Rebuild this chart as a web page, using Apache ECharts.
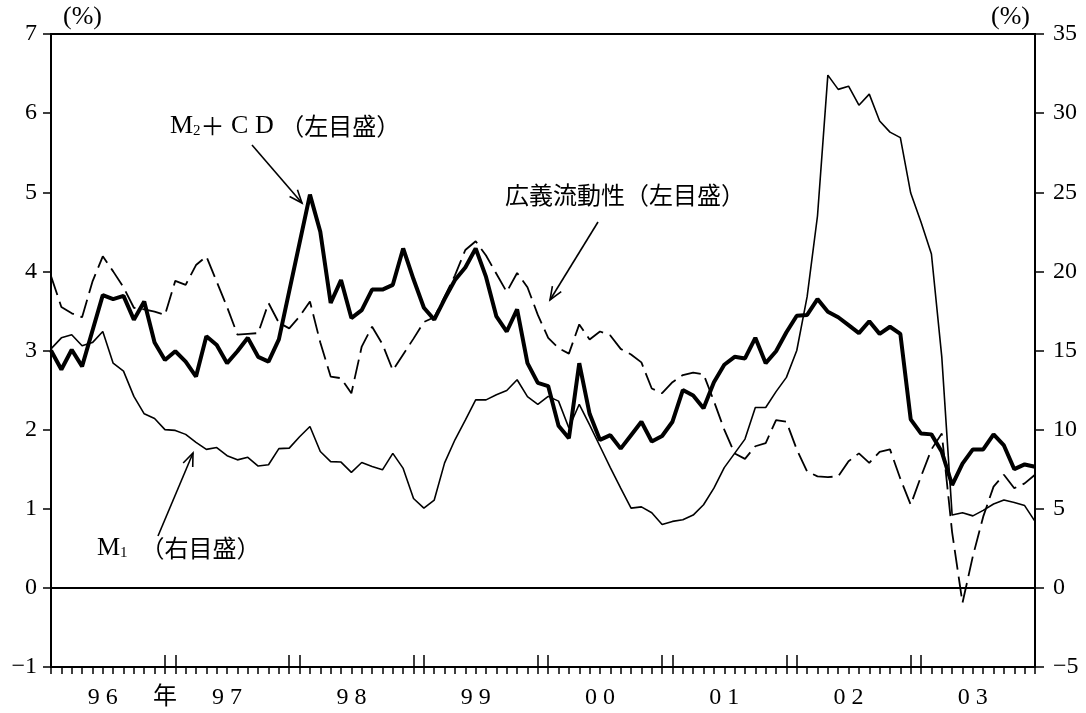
<!DOCTYPE html>
<html>
<head>
<meta charset="utf-8">
<script src="https://cdn.jsdelivr.net/npm/echarts@6/dist/echarts.min.js"></script>
<style>
  html, body { margin: 0; padding: 0; background: #fff; }
  #chart { width: 1086px; height: 713px; }
</style>
</head>
<body>
<div id="chart"></div>
<script>
// 前年比（%）、月次 1996年1月〜2003年12月
var years = ['96', '97', '98', '99', '00', '01', '02', '03'];
var months = [];
years.forEach(function (y) {
  for (var m = 1; m <= 12; m++) months.push(y + '/' + m);
});

// 目盛ラベル
var yearLabels = ['9 6', '9 7', '9 8', '9 9', '0 0', '0 1', '0 2', '0 3'];
var yearUnit = '年';
var leftTicks = { min: -1, max: 7, step: 1 };
var rightTicks = { min: -5, max: 35, step: 5 };

// M2+CD（左目盛）
var m2cd = [
  3.00, 2.76, 3.01, 2.80, 3.25, 3.70, 3.65, 3.69, 3.39, 3.62, 3.10, 2.88,
  2.99, 2.86, 2.67, 3.18, 3.07, 2.84, 2.99, 3.16, 2.92, 2.86, 3.14, 3.75,
  4.36, 4.97, 4.50, 3.60, 3.89, 3.41, 3.51, 3.77, 3.77, 3.83, 4.29, 3.90,
  3.54, 3.39, 3.65, 3.89, 4.05, 4.29, 3.93, 3.43, 3.24, 3.52, 2.84, 2.59,
  2.55, 2.05, 1.89, 2.84, 2.20, 1.87, 1.93, 1.76, 1.93, 2.10, 1.85, 1.92,
  2.10, 2.50, 2.43, 2.27, 2.60, 2.82, 2.92, 2.90, 3.16, 2.84, 2.99, 3.23,
  3.44, 3.45, 3.65, 3.49, 3.42, 3.32, 3.22, 3.37, 3.21, 3.30, 3.21, 2.13,
  1.95, 1.94, 1.72, 1.30, 1.57, 1.75, 1.75, 1.94, 1.80, 1.50, 1.56, 1.53
];

// 広義流動性（左目盛）
var kogi = [
  3.94, 3.55, 3.47, 3.42, 3.87, 4.19, 4.00, 3.80, 3.54, 3.52, 3.49, 3.45,
  3.88, 3.83, 4.08, 4.19, 3.87, 3.55, 3.20, 3.21, 3.22, 3.60, 3.35, 3.28,
  3.43, 3.62, 3.10, 2.67, 2.65, 2.46, 3.05, 3.30, 3.08, 2.75, 2.95, 3.15,
  3.36, 3.42, 3.68, 3.95, 4.27, 4.38, 4.20, 3.97, 3.74, 3.98, 3.80, 3.45,
  3.16, 3.03, 2.96, 3.33, 3.14, 3.24, 3.19, 3.02, 2.95, 2.85, 2.52, 2.46,
  2.60, 2.69, 2.72, 2.70, 2.36, 2.00, 1.70, 1.63, 1.79, 1.83, 2.12, 2.10,
  1.75, 1.47, 1.41, 1.40, 1.41, 1.60, 1.70, 1.58, 1.72, 1.75, 1.38, 1.05,
  1.41, 1.75, 1.95, 0.70, -0.19, 0.40, 0.90, 1.28, 1.43, 1.26, 1.32, 1.43
];

// M1（右目盛）
var m1 = [
  15.1, 15.8, 16.0, 15.3, 15.5, 16.2, 14.2, 13.7, 12.1, 11.0, 10.7, 10.0,
  9.95, 9.7, 9.2, 8.75, 8.87, 8.35, 8.09, 8.25, 7.70, 7.78, 8.80, 8.83,
  9.55, 10.2, 8.62, 7.98, 7.95, 7.30, 7.92, 7.67, 7.46, 8.50, 7.55, 5.65,
  5.04, 5.55, 7.90, 9.36, 10.6, 11.88, 11.88, 12.2, 12.47, 13.15, 12.09, 11.6,
  12.1, 11.8, 10.1, 11.6, 10.3, 8.95, 7.6, 6.3, 5.04, 5.12, 4.75, 4.0,
  4.2, 4.3, 4.6, 5.25, 6.3, 7.6, 8.5, 9.4, 11.4, 11.4, 12.4, 13.3,
  15.0, 18.4, 23.5, 32.4, 31.5, 31.7, 30.5, 31.2, 29.5, 28.8, 28.45, 24.95,
  23.1, 21.1, 14.6, 4.6, 4.75, 4.55, 4.9, 5.3, 5.55, 5.4, 5.2, 4.2
];

var SERIF = '"Liberation Serif", "DejaVu Serif", serif';
var CJK = '"Noto Sans CJK JP", "Noto Sans CJK SC", sans-serif';

// 年ラベルは6月の位置、「年」は96年12月の位置
function xLabel(index) {
  if (index === 11) return yearUnit;
  if (index % 12 === 5) return yearLabels[(index - 5) / 12];
  return '';
}

function minus(v) {
  return String(v).replace('-', '\u2212');
}

function arrow(x1, y1, x2, y2) {
  var a = Math.atan2(y2 - y1, x2 - x1);
  var L = 14, w = 0.38;
  return {
    type: 'group',
    children: [
      { type: 'line', shape: { x1: x1, y1: y1, x2: x2, y2: y2 },
        style: { stroke: '#000', lineWidth: 1.6 } },
      { type: 'polyline',
        shape: { points: [
          [x2 - L * Math.cos(a - w), y2 - L * Math.sin(a - w)],
          [x2, y2],
          [x2 - L * Math.cos(a + w), y2 - L * Math.sin(a + w)]
        ] },
        style: { stroke: '#000', lineWidth: 1.6, fill: null } }
    ]
  };
}

var richStyle = {
  a: { fontFamily: SERIF, fontSize: 26, fill: '#000' },
  s: { fontFamily: SERIF, fontSize: 15, fill: '#000', verticalAlign: 'bottom' },
  j: { fontFamily: CJK, fontSize: 24, fill: '#000' }
};

var chart = echarts.init(document.getElementById('chart'));

chart.setOption({
  animation: false,
  backgroundColor: '#fff',
  grid: {
    left: 51, right: 51, top: 34, bottom: 46,
    show: true, borderColor: '#000', borderWidth: 2
  },
  xAxis: [
    {
      type: 'category',
      data: months,
      boundaryGap: false,
      axisLine: { onZero: false, lineStyle: { color: '#000', width: 2 } },
      axisTick: { interval: 0, length: 7, lineStyle: { color: '#000', width: 1.5 } },
      axisLabel: {
        interval: function (index) { return xLabel(index) !== ''; },
        formatter: function (value, index) { return xLabel(index); },
        color: '#000',
        fontFamily: SERIF + ', ' + CJK,
        fontSize: 24,
        margin: 19
      },
      splitLine: { show: false }
    },
    {
      // 年の区切り（二重目盛）
      type: 'category',
      data: months,
      boundaryGap: false,
      position: 'bottom',
      axisLine: { show: false, onZero: false },
      axisTick: {
        inside: true,
        length: 12,
        interval: function (index) { return index > 0 && (index % 12 === 11 || index % 12 === 0); },
        lineStyle: { color: '#000', width: 1.5 }
      },
      axisLabel: { show: false },
      splitLine: { show: false }
    }
  ],
  yAxis: [
    {
      type: 'value',
      min: leftTicks.min, max: leftTicks.max, interval: leftTicks.step,
      name: '(%)',
      nameLocation: 'end',
      nameGap: 4,
      nameTextStyle: { color: '#000', fontFamily: SERIF, fontSize: 26, align: 'left', padding: [0, 0, 0, 12] },
      axisLine: { show: true, lineStyle: { color: '#000', width: 2 } },
      axisTick: { show: true, length: 8, lineStyle: { color: '#000', width: 1.5 } },
      axisLabel: { color: '#000', fontFamily: SERIF, fontSize: 24, margin: 14, formatter: minus },
      splitLine: { show: false }
    },
    {
      type: 'value',
      min: rightTicks.min, max: rightTicks.max, interval: rightTicks.step,
      name: '(%)',
      nameLocation: 'end',
      nameGap: 4,
      nameTextStyle: { color: '#000', fontFamily: SERIF, fontSize: 26, align: 'right', padding: [0, 5, 0, 0] },
      axisLine: { show: true, lineStyle: { color: '#000', width: 2 } },
      axisTick: { show: true, length: 9, lineStyle: { color: '#000', width: 1.5 } },
      axisLabel: { color: '#000', fontFamily: SERIF, fontSize: 24, margin: 18, formatter: minus },
      splitLine: { show: false }
    }
  ],
  series: [
    {
      name: 'M1（右目盛）',
      type: 'line',
      yAxisIndex: 1,
      data: m1,
      showSymbol: false,
      symbol: 'none',
      lineStyle: { color: '#000', width: 1.6 },
      z: 2
    },
    {
      name: '広義流動性（左目盛）',
      type: 'line',
      yAxisIndex: 0,
      data: kogi,
      showSymbol: false,
      symbol: 'none',
      lineStyle: { color: '#000', width: 1.8, type: [20, 7] },
      z: 3
    },
    {
      name: 'M2+CD（左目盛）',
      type: 'line',
      yAxisIndex: 0,
      data: m2cd,
      showSymbol: false,
      symbol: 'none',
      lineStyle: { color: '#000', width: 4 },
      z: 4,
      markLine: {
        silent: true,
        symbol: ['none', 'none'],
        label: { show: false },
        lineStyle: { color: '#000', width: 2, type: 'solid' },
        data: [{ yAxis: 0 }]
      }
    }
  ],
  graphic: [
    {
      type: 'text', x: 170, y: 126,
      style: {
        text: '{a|M}{s|2}{j|＋}{a| C D }{j|（左目盛）}',
        rich: richStyle, verticalAlign: 'middle'
      }
    },
    arrow(252, 145, 302, 203),
    {
      type: 'text', x: 505, y: 195,
      style: {
        text: '広義流動性（左目盛）',
        fontFamily: CJK, fontSize: 24, fill: '#000', verticalAlign: 'middle'
      }
    },
    arrow(598, 222, 550, 300),
    {
      type: 'text', x: 97, y: 548,
      style: {
        text: '{a|M}{s|1}{a|  }{j|（右目盛）}',
        rich: richStyle, verticalAlign: 'middle'
      }
    },
    arrow(158, 536, 193, 453)
  ]
});
</script>
</body>
</html>
